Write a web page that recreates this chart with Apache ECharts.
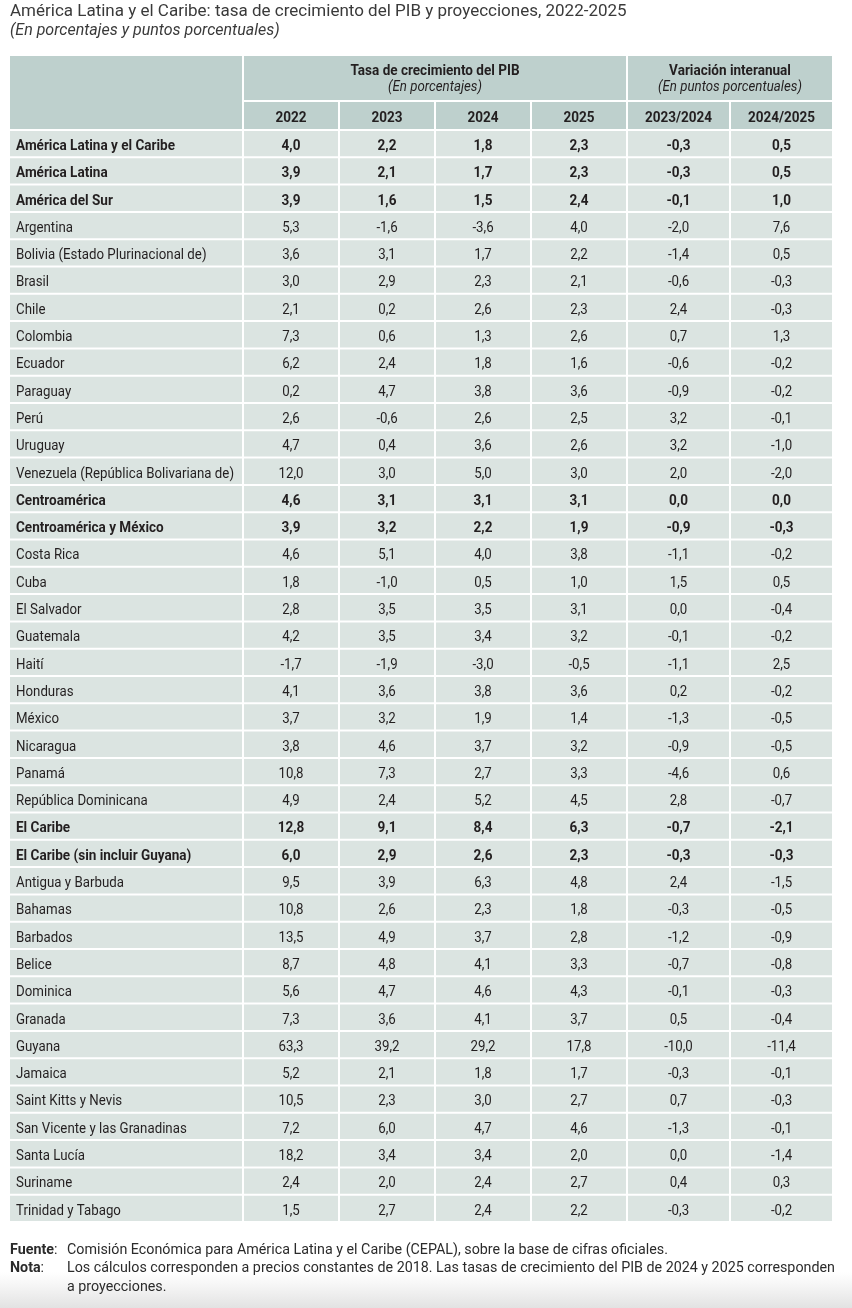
<!DOCTYPE html>
<html><head><meta charset="utf-8">
<script src="https://cdn.jsdelivr.net/npm/echarts@6/dist/echarts.min.js"></script>
<style>html,body{margin:0;padding:0;background:#fff}#c{width:852px;height:1308px}</style>
</head><body><div id="c"></div>
<script>
const titleText = 'América Latina y el Caribe: tasa de crecimiento del PIB y proyecciones, 2022-2025';
const subtitleText = '(En porcentajes y puntos porcentuales)';
const groupGrowth = ['Tasa de crecimiento del PIB', '(En porcentajes)'];
const groupVar = ['Variación interanual', '(En puntos porcentuales)'];
const years = ['2022', '2023', '2024', '2025'];
const varLabels = ['2023/2024', '2024/2025'];
const rowNames = [
  'América Latina y el Caribe','América Latina','América del Sur','Argentina',
  'Bolivia (Estado Plurinacional de)','Brasil','Chile','Colombia','Ecuador','Paraguay',
  'Perú','Uruguay','Venezuela (República Bolivariana de)','Centroamérica',
  'Centroamérica y México','Costa Rica','Cuba','El Salvador','Guatemala','Haití',
  'Honduras','México','Nicaragua','Panamá','República Dominicana','El Caribe',
  'El Caribe (sin incluir Guyana)','Antigua y Barbuda','Bahamas','Barbados','Belice',
  'Dominica','Granada','Guyana','Jamaica','Saint Kitts y Nevis',
  'San Vicente y las Granadinas','Santa Lucía','Suriname','Trinidad y Tabago'
];
const boldRows = ['América Latina y el Caribe','América Latina','América del Sur',
  'Centroamérica','Centroamérica y México','El Caribe','El Caribe (sin incluir Guyana)'];
const g2022 = [4.0,3.9,3.9,5.3,3.6,3.0,2.1,7.3,6.2,0.2,2.6,4.7,12.0,4.6,3.9,4.6,1.8,2.8,4.2,-1.7,4.1,3.7,3.8,10.8,4.9,12.8,6.0,9.5,10.8,13.5,8.7,5.6,7.3,63.3,5.2,10.5,7.2,18.2,2.4,1.5];
const g2023 = [2.2,2.1,1.6,-1.6,3.1,2.9,0.2,0.6,2.4,4.7,-0.6,0.4,3.0,3.1,3.2,5.1,-1.0,3.5,3.5,-1.9,3.6,3.2,4.6,7.3,2.4,9.1,2.9,3.9,2.6,4.9,4.8,4.7,3.6,39.2,2.1,2.3,6.0,3.4,2.0,2.7];
const g2024 = [1.8,1.7,1.5,-3.6,1.7,2.3,2.6,1.3,1.8,3.8,2.6,3.6,5.0,3.1,2.2,4.0,0.5,3.5,3.4,-3.0,3.8,1.9,3.7,2.7,5.2,8.4,2.6,6.3,2.3,3.7,4.1,4.6,4.1,29.2,1.8,3.0,4.7,3.4,2.4,2.4];
const g2025 = [2.3,2.3,2.4,4.0,2.2,2.1,2.3,2.6,1.6,3.6,2.5,2.6,3.0,3.1,1.9,3.8,1.0,3.1,3.2,-0.5,3.6,1.4,3.2,3.3,4.5,6.3,2.3,4.8,1.8,2.8,3.3,4.3,3.7,17.8,1.7,2.7,4.6,2.0,2.7,2.2];
const v2324 = [-0.3,-0.3,-0.1,-2.0,-1.4,-0.6,2.4,0.7,-0.6,-0.9,3.2,3.2,2.0,0.0,-0.9,-1.1,1.5,0.0,-0.1,-1.1,0.2,-1.3,-0.9,-4.6,2.8,-0.7,-0.3,2.4,-0.3,-1.2,-0.7,-0.1,0.5,-10.0,-0.3,0.7,-1.3,0.0,0.4,-0.3];
const v2425 = [0.5,0.5,1.0,7.6,0.5,-0.3,-0.3,1.3,-0.2,-0.2,-0.1,-1.0,-2.0,0.0,-0.3,-0.2,0.5,-0.4,-0.2,2.5,-0.2,-0.5,-0.5,0.6,-0.7,-2.1,-0.3,-1.5,-0.5,-0.9,-0.8,-0.3,-0.4,-11.4,-0.1,-0.3,-0.1,-1.4,0.3,-0.2];
const footFuenteLabel = 'Fuente';
const footNotaLabel = 'Nota';
const footFuente = 'Comisión Económica para América Latina y el Caribe (CEPAL), sobre la base de cifras oficiales.';
const footNota1 = 'Los cálculos corresponden a precios constantes de 2018. Las tasas de crecimiento del PIB de 2024 y 2025 corresponden';
const footNota2 = 'a proyecciones.';

const growthCols = [g2022, g2023, g2024, g2025];
const varCols = [v2324, v2425];

const FONT = 'Roboto';
const HEAD = '#bed0cd', BODY = '#dbe4e1', TXT = '#231f20', GAP = 2, FS = 15, DY = 2.5;

// horizontal condensing factors (the reference uses a condensed face)
const mctx = document.createElement('canvas').getContext('2d');
function textW(str, weight, size, style) {
  mctx.font = (style || 'normal') + ' ' + weight + ' ' + size + 'px ' + FONT;
  return mctx.measureText(str).width;
}
const SX = 218 / textW(rowNames[12], 'normal', FS);
const SXB = 159 / textW(rowNames[0], 'bold', FS);
const SXF = 601 / textW(footFuente, 'normal', FS);

const fmt = v => v.toFixed(1).replace('.', ',');
const isBold = i => boldRows.indexOf(rowNames[i]) >= 0;

const colL = {left: 10, width: 234}, colT = {left: 244, width: 384}, colV = {left: 628, width: 206};
const bandH1 = {top: 56, height: 46}, bandH2 = {top: 102, height: 29}, bandB = {top: 131, height: 1092}, bandLH = {top: 56, height: 75};

const grids = [
  Object.assign({}, colL, bandLH), Object.assign({}, colL, bandB),
  Object.assign({}, colT, bandH1), Object.assign({}, colT, bandH2), Object.assign({}, colT, bandB),
  Object.assign({}, colV, bandH1), Object.assign({}, colV, bandH2), Object.assign({}, colV, bandB)
];
const xCats = [[''], [''], ['g'], years, years, ['g'], varLabels, varLabels];
const yCats = [['h'], rowNames, ['h'], ['h'], rowNames, ['h'], ['h'], rowNames];

function cellRect(api) {
  const c = api.coord([api.value(0), api.value(1)]);
  const s = api.size([1, 1]);
  return {x: c[0] - s[0] / 2, y: c[1] - s[1] / 2, w: s[0] - GAP, h: s[1] - GAP};
}
function txt(x, y, text, align, bold, italic, sx) {
  return {type: 'text', x: x, y: y, scaleX: sx, style: {
    text: text, align: align, verticalAlign: 'middle', fontFamily: FONT, fontSize: FS,
    fontWeight: bold ? 'bold' : 'normal', fontStyle: italic ? 'italic' : 'normal', fill: TXT}};
}

function emptyHead(params, api) {
  const r = cellRect(api);
  return {type: 'rect', shape: {x: r.x, y: r.y, width: r.w, height: r.h}, style: {fill: HEAD}};
}
function groupHead(lines) {
  return function (params, api) {
    const r = cellRect(api);
    const cx = r.x + r.w / 2, cy = r.y + r.h / 2;
    return {type: 'group', children: [
      {type: 'rect', shape: {x: r.x, y: r.y, width: r.w, height: r.h}, style: {fill: HEAD}},
      txt(cx, cy - 6.5, lines[0], 'center', true, false, SXB),
      txt(cx, cy + 9.5, lines[1], 'center', false, true, SX)
    ]};
  };
}
function yearHead(labels) {
  return function (params, api) {
    const r = cellRect(api);
    return {type: 'group', children: [
      {type: 'rect', shape: {x: r.x, y: r.y, width: r.w, height: r.h}, style: {fill: HEAD}},
      txt(r.x + r.w / 2, r.y + r.h / 2 + DY, labels[api.value(0)], 'center', true, false, SXB)
    ]};
  };
}
function labelCell(params, api) {
  const r = cellRect(api);
  const i = api.value(1);
  const b = isBold(i);
  return {type: 'group', children: [
    {type: 'rect', shape: {x: r.x, y: r.y, width: r.w, height: r.h}, style: {fill: BODY}},
    txt(r.x + 6, r.y + r.h / 2 + DY, rowNames[i], 'left', b, false, b ? SXB : SX)
  ]};
}
function valueCell(params, api) {
  const r = cellRect(api);
  const i = api.value(1);
  const b = isBold(i);
  return {type: 'group', children: [
    {type: 'rect', shape: {x: r.x, y: r.y, width: r.w, height: r.h}, style: {fill: BODY}},
    txt(r.x + r.w / 2, r.y + r.h / 2 + DY, fmt(api.value(2)), 'center', b, false, b ? SXB : SX)
  ]};
}

const growthData = [], varData = [];
growthCols.forEach((col, j) => col.forEach((v, i) => growthData.push([j, i, v])));
varCols.forEach((col, j) => col.forEach((v, i) => varData.push([j, i, v])));

const series = [
  {type: 'custom', xAxisIndex: 0, yAxisIndex: 0, data: [[0, 0]], renderItem: emptyHead},
  {type: 'custom', xAxisIndex: 1, yAxisIndex: 1, data: rowNames.map((n, i) => [0, i]), renderItem: labelCell},
  {type: 'custom', xAxisIndex: 2, yAxisIndex: 2, data: [[0, 0]], renderItem: groupHead(groupGrowth)},
  {type: 'custom', xAxisIndex: 3, yAxisIndex: 3, data: years.map((y, j) => [j, 0]), renderItem: yearHead(years)},
  {type: 'custom', xAxisIndex: 4, yAxisIndex: 4, data: growthData, renderItem: valueCell},
  {type: 'custom', xAxisIndex: 5, yAxisIndex: 5, data: [[0, 0]], renderItem: groupHead(groupVar)},
  {type: 'custom', xAxisIndex: 6, yAxisIndex: 6, data: varLabels.map((y, j) => [j, 0]), renderItem: yearHead(varLabels)},
  {type: 'custom', xAxisIndex: 7, yAxisIndex: 7, data: varData, renderItem: valueCell}
];

function foot(x, y, text, bold) {
  return {type: 'text', x: x, y: y, scaleX: SXF, style: {text: text, verticalAlign: 'middle',
    fontFamily: FONT, fontSize: FS, fontWeight: bold ? 'bold' : 'normal', fill: '#2b2b2b'}};
}
const wF = textW(footFuenteLabel, 'bold', FS) * SXF, wN = textW(footNotaLabel, 'bold', FS) * SXF;

const chart = echarts.init(document.getElementById('c'), null, {renderer: 'canvas'});
chart.setOption({
  animation: false,
  backgroundColor: '#ffffff',
  title: {
    left: 10, top: 3, padding: 0, itemGap: 3,
    text: titleText, subtext: subtitleText,
    textStyle: {fontFamily: 'Roboto', fontSize: 17, fontWeight: 'normal', color: '#3a3a3a'},
    subtextStyle: {fontFamily: 'Roboto', fontSize: 16, fontStyle: 'italic', color: '#3a3a3a'}
  },
  grid: grids,
  xAxis: grids.map((g, k) => ({type: 'category', gridIndex: k, data: xCats[k], show: false})),
  yAxis: grids.map((g, k) => ({type: 'category', gridIndex: k, data: yCats[k], inverse: true, show: false})),
  series: series,
  graphic: [
    {type: 'rect', x: 0, y: 1272, shape: {width: 852, height: 36}, z: -10, silent: true,
      style: {fill: new echarts.graphic.LinearGradient(0, 0, 0, 1, [{offset: 0, color: 'rgba(230,230,230,0)'}, {offset: 1, color: 'rgba(226,226,226,1)'}])}},
    foot(10, 1250, footFuenteLabel, true),
    foot(10 + wF, 1250, ':', false),
    foot(67, 1250, footFuente, false),
    foot(10, 1268, footNotaLabel, true),
    foot(10 + wN, 1268, ':', false),
    foot(67, 1268, footNota1, false),
    foot(67, 1287, footNota2, false)
  ]
});
</script>
</body></html>
